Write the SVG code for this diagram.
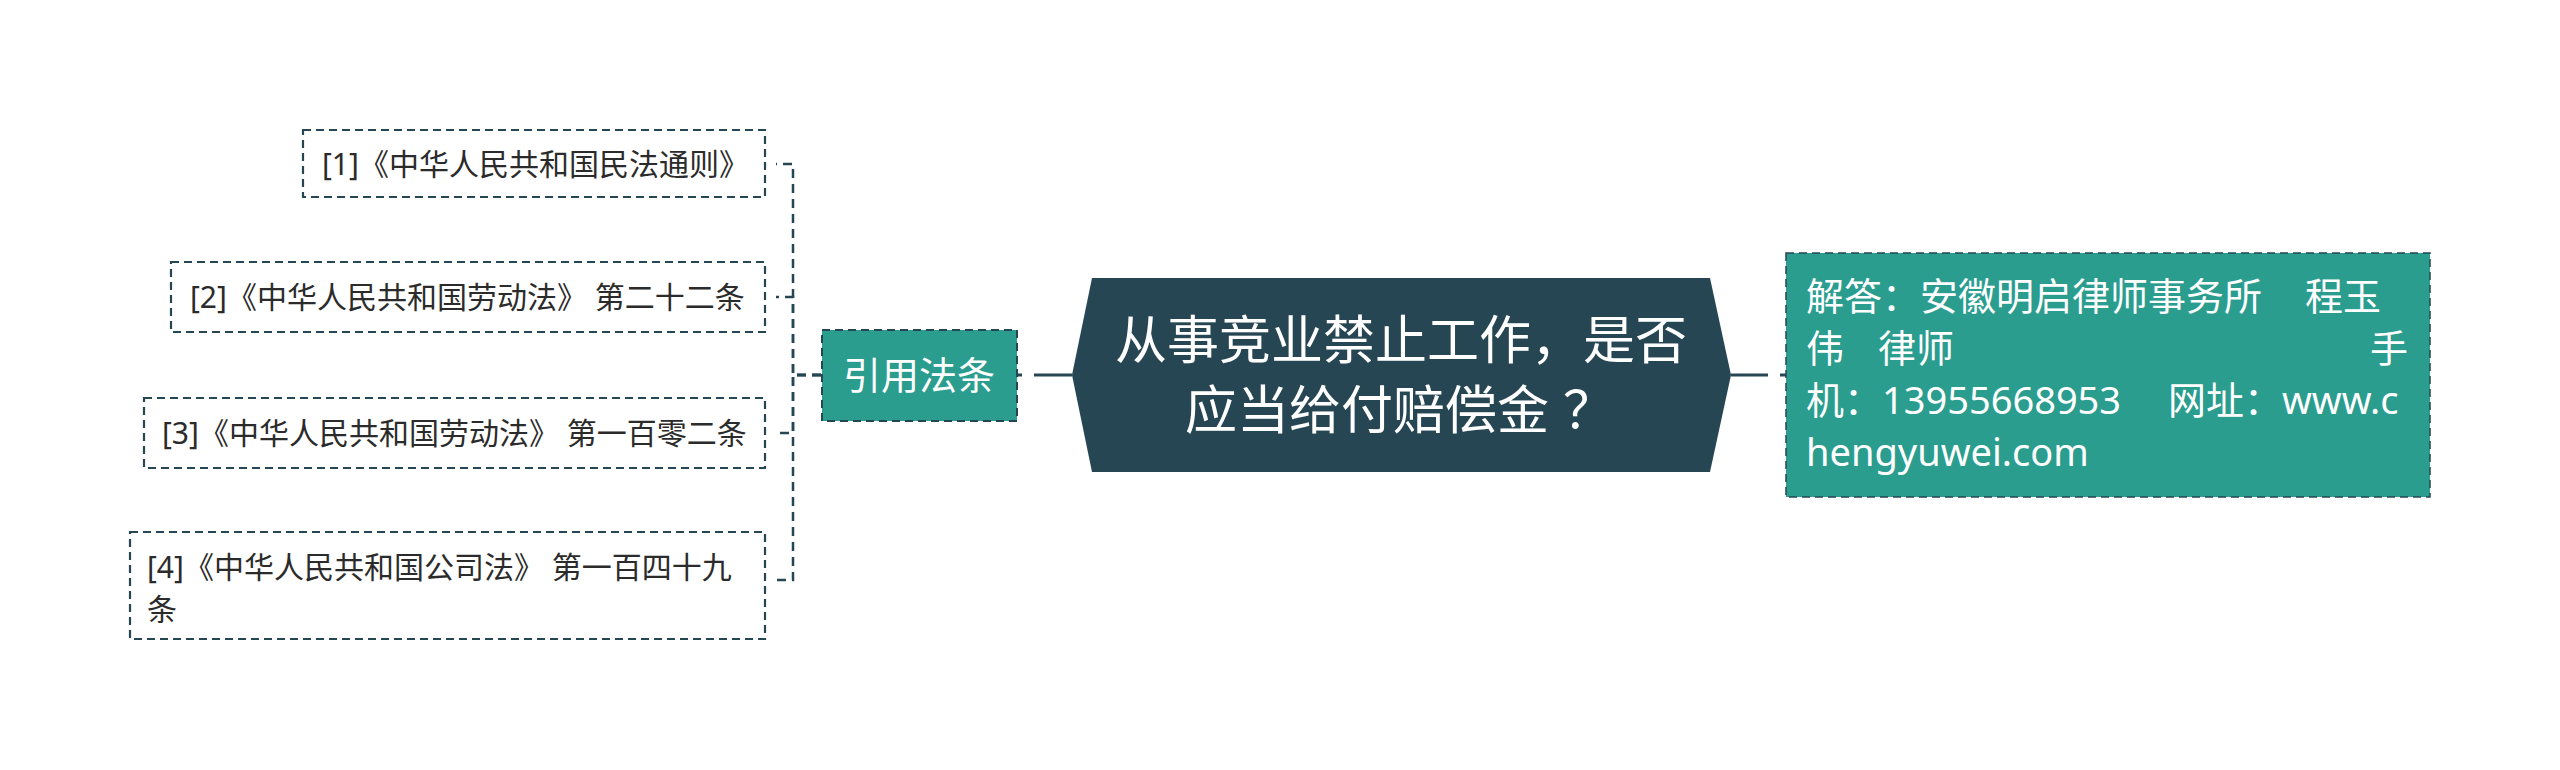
<svg xmlns="http://www.w3.org/2000/svg" width="2560" height="770" viewBox="0 0 2560 770">
<style>
text { font-family: "Noto Sans", "Noto Sans CJK SC", sans-serif; }
.leaf rect { fill: #ffffff; stroke: #264653; stroke-width: 2.2; stroke-dasharray: 8 5; }
.leaf text { font-size: 30px; fill: #2b2b2b; }
.teal rect { fill: #2a9d8f; stroke: #264653; stroke-width: 2; stroke-dasharray: 8 5; }
.teal text { fill: #ffffff; font-size: 38px; }
.main path { fill: #264653; }
.main text { fill: #ffffff; font-size: 52px; }
.conn path { fill: none; stroke: #264653; }
.conn .l { stroke-width: 2.5; stroke-dasharray: 9 6; }
.conn .m { stroke-width: 3; }
</style>
<rect width="2560" height="770" fill="#ffffff"/>
<g id="connectors" class="conn">
  <path class="m" d="M1072 375 H1017" stroke-dasharray="38 12 6 100"/>
  <path class="m" d="M1731 375 H1786" stroke-dasharray="37 12 6 100"/>
  <path class="l" d="M821 375 H793 V164 H776"/>
  <path class="l" d="M821 375 H793 V297 H776"/>
  <path class="l" d="M821 375 H793 V433 H776"/>
  <path class="l" d="M821 375 H793 V580 H776"/>
</g>
<g id="main" class="main">
  <path d="M1072 375 L1092 278 H1710 L1731 375 L1710 472 H1092 Z"/>
  <text x="1401" y="359" text-anchor="middle">从事竞业禁止工作，是否</text>
  <text y="429"><tspan x="1185">应当给付赔偿金</tspan><tspan x="1563">？</tspan></text>
</g>
<g id="yinyong" class="teal">
  <rect x="822" y="330" width="195" height="91"/>
  <text x="919" y="389" text-anchor="middle">引用法条</text>
</g>
<g id="answer" class="teal">
  <rect x="1786" y="253" width="644" height="244" style="stroke-width:1.5"/>
  <text y="310"><tspan x="1806">解答：安徽明启律师事务所</tspan><tspan x="2305">程玉</tspan></text>
  <text y="362"><tspan x="1806">伟</tspan><tspan x="1878">律师</tspan><tspan x="2370">手</tspan></text>
  <text y="414"><tspan x="1806">机：13955668953</tspan><tspan x="2168">网址：www.c</tspan></text>
  <text y="466" x="1806">hengyuwei.com</text>
</g>
<g id="law1" class="leaf">
  <rect x="303" y="130" width="462" height="67"/>
  <text x="322" y="175">[1]《中华人民共和国民法通则》</text>
</g>
<g id="law2" class="leaf">
  <rect x="171" y="262" width="594" height="70"/>
  <text x="190" y="308">[2]《中华人民共和国劳动法》 第二十二条</text>
</g>
<g id="law3" class="leaf">
  <rect x="144" y="398" width="621" height="70"/>
  <text x="162" y="444">[3]《中华人民共和国劳动法》 第一百零二条</text>
</g>
<g id="law4" class="leaf">
  <rect x="130" y="532" width="635" height="107"/>
  <text x="147" y="578">[4]《中华人民共和国公司法》 第一百四十九</text>
  <text x="147" y="620">条</text>
</g>
</svg>
